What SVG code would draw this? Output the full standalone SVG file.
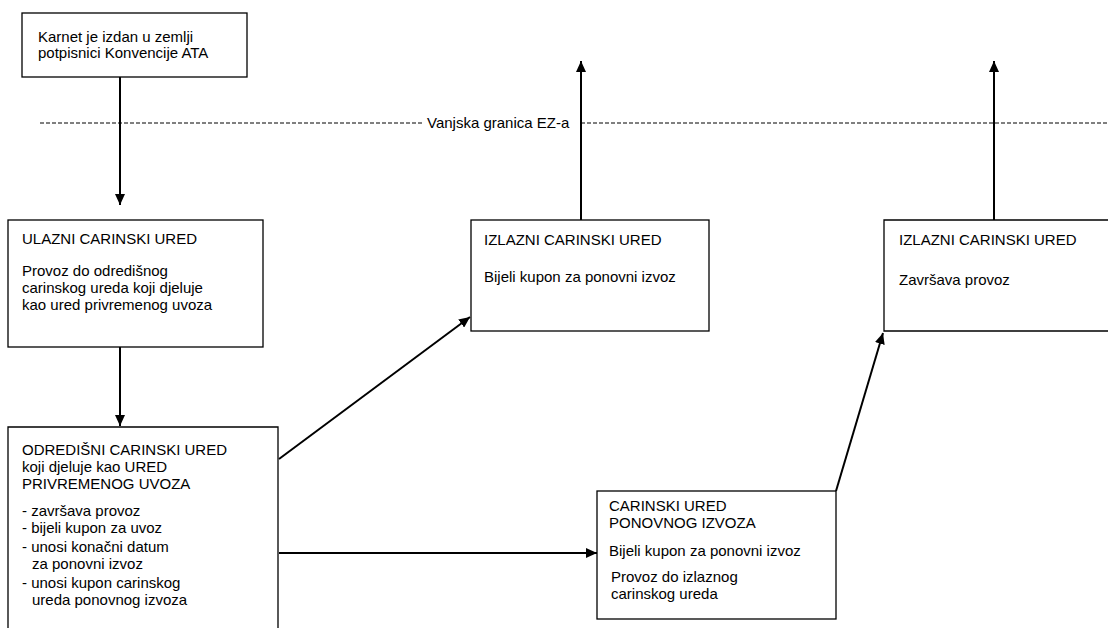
<svg xmlns="http://www.w3.org/2000/svg" width="1108" height="628" viewBox="0 0 1108 628">
<defs>
<marker id="ah" markerUnits="userSpaceOnUse" markerWidth="12" markerHeight="10" refX="11" refY="5" orient="auto">
<path d="M0,0 L11,5 L0,10 z" fill="#000"/>
</marker>
<style>
.box{fill:#fff;stroke:#000;stroke-width:1.3}
.t{font-family:"Liberation Sans",Arial,sans-serif;font-size:15px;fill:#000}
.c{stroke:#000;stroke-width:2;fill:none}
.d{stroke:#000;stroke-width:1;stroke-dasharray:4 2;fill:none}
</style>
</defs>
<rect width="1108" height="628" fill="#fff"/>
<g id="border">
<line class="d" x1="40" y1="123" x2="423" y2="123"/>
<line class="d" x1="581" y1="123" x2="1108" y2="123"/>
<text class="t" x="427" y="128">Vanjska granica EZ-a</text>
</g>
<g id="connectors">
<line class="c" x1="120" y1="77" x2="120" y2="205" marker-end="url(#ah)"/>
<line class="c" x1="120" y1="347" x2="120" y2="426" marker-end="url(#ah)"/>
<line class="c" x1="279" y1="459" x2="470" y2="317" marker-end="url(#ah)"/>
<line class="c" x1="279" y1="553" x2="597" y2="553" marker-end="url(#ah)"/>
<line class="c" x1="836" y1="491" x2="883" y2="333" marker-end="url(#ah)"/>
<line class="c" x1="581" y1="220" x2="581" y2="61" marker-end="url(#ah)"/>
<line class="c" x1="994" y1="220" x2="994" y2="61" marker-end="url(#ah)"/>
</g>
<g id="n1">
<rect class="box" x="22" y="13" width="225" height="64"/>
<text class="t" x="38" y="42">Karnet je izdan u zemlji</text>
<text class="t" x="38" y="58">potpisnici Konvencije ATA</text>
</g>
<g id="n2">
<rect class="box" x="8" y="220" width="255" height="127"/>
<text class="t" x="22" y="244">ULAZNI CARINSKI URED</text>
<text class="t" x="22" y="276">Provoz do odredišnog</text>
<text class="t" x="22" y="293">carinskog ureda koji djeluje</text>
<text class="t" x="22" y="310">kao ured privremenog uvoza</text>
</g>
<g id="n3">
<path class="box" d="M8,640 L8,427 L278,427 L278,640"/>
<text class="t" x="22" y="455">ODREDIŠNI CARINSKI URED</text>
<text class="t" x="22" y="472">koji djeluje kao URED</text>
<text class="t" x="22" y="489">PRIVREMENOG UVOZA</text>
<text class="t" x="22" y="516">- završava provoz</text>
<text class="t" x="22" y="533">- bijeli kupon za uvoz</text>
<text class="t" x="22" y="552">- unosi konačni datum</text>
<text class="t" x="32" y="569">za ponovni izvoz</text>
<text class="t" x="22" y="588">- unosi kupon carinskog</text>
<text class="t" x="32" y="605">ureda ponovnog izvoza</text>
</g>
<g id="n4">
<rect class="box" x="471" y="220" width="238" height="111"/>
<text class="t" x="484" y="245">IZLAZNI CARINSKI URED</text>
<text class="t" x="484" y="282">Bijeli kupon za ponovni izvoz</text>
</g>
<g id="n5">
<path class="box" d="M1120,220 L884,220 L884,331 L1120,331"/>
<text class="t" x="899" y="245">IZLAZNI CARINSKI URED</text>
<text class="t" x="899" y="285">Završava provoz</text>
</g>
<g id="n6">
<rect class="box" x="597" y="491" width="239" height="128"/>
<text class="t" x="609" y="511">CARINSKI URED</text>
<text class="t" x="609" y="528">PONOVNOG IZVOZA</text>
<text class="t" x="609" y="556">Bijeli kupon za ponovni izvoz</text>
<text class="t" x="611" y="582">Provoz do izlaznog</text>
<text class="t" x="611" y="599">carinskog ureda</text>
</g>
</svg>
